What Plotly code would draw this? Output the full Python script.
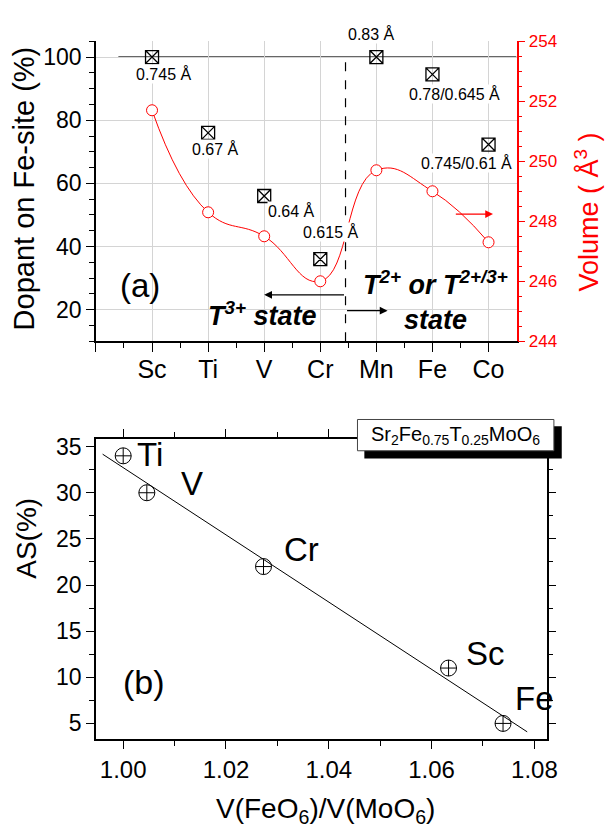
import numpy as np
import plotly.graph_objects as go

# ---------------- data: panel (a) ----------------
dopants = ["Sc", "Ti", "V", "Cr", "Mn", "Fe", "Co"]
dopant_on_fe_site = [100, 76, 56, 36, 100, 94.5, 72.3]          # left axis (%)
cell_volume = [251.7, 248.3, 247.5, 246.0, 249.7, 249.0, 247.3]  # right axis (Å^3)
ionic_radius_labels = ["0.745 Å", "0.67 Å", "0.64 Å", "0.615 Å",
                       "0.83 Å", "0.78/0.645 Å", "0.745/0.61 Å"]
radius_label_x = [0.2, 1.14, 2.48, 3.19, 3.92, 5.40, 5.60]
radius_label_y = [94.7, 70.8, 51.2, 44.5, 107.4, 88.3, 66.6]

# ---------------- data: panel (b) ----------------
as_labels = ["Ti", "V", "Cr", "Sc", "Fe"]
volume_ratio = [1.000, 1.0046, 1.0273, 1.0633, 1.0739]
antisite = [34, 30, 22, 11, 5]
as_label_x = [1.0053, 1.0134, 1.0346, 1.0704, 1.0801]
as_label_y = [34.1, 31.0, 23.9, 12.6, 7.7]
fit_x_span = [0.9960, 1.0786]

FONT = "Liberation Sans, Arial, sans-serif"
W, H = 614, 839
Y1_RANGE = [10, 105]


def px(x):
    return x / W


def py(y):
    return 1 - y / H


def y1_domain(v):
    return (v - Y1_RANGE[0]) / (Y1_RANGE[1] - Y1_RANGE[0])


cat_x = list(range(len(dopants)))

fig = go.Figure()

# panel (a): dopant fraction on Fe site
fig.add_trace(go.Scatter(
    x=cat_x, y=dopant_on_fe_site, mode="markers",
    marker=dict(symbol="square-x-open", size=13, color="black", line=dict(width=1.3)),
    xaxis="x", yaxis="y", showlegend=False, cliponaxis=False))

# panel (a): cell volume (right axis)
fig.add_trace(go.Scatter(
    x=cat_x, y=cell_volume, mode="lines+markers",
    line=dict(color="red", width=1, shape="spline", smoothing=1.3),
    marker=dict(symbol="circle", size=11, color="white", line=dict(color="red", width=1)),
    xaxis="x", yaxis="y2", showlegend=False))

# panel (b): anti-site vs octahedral volume ratio
fig.add_trace(go.Scatter(
    x=volume_ratio, y=antisite, mode="markers",
    marker=dict(symbol="circle-cross-open", size=16, color="black", line=dict(width=1)),
    xaxis="x2", yaxis="y3", showlegend=False))

# linear fit
slope, intercept = np.polyfit(volume_ratio, antisite, 1)
fx = np.array(fit_x_span)
fig.add_trace(go.Scatter(
    x=fx, y=slope * fx + intercept, mode="lines",
    line=dict(color="black", width=1),
    xaxis="x2", yaxis="y3", showlegend=False))

# ---------------- axes ----------------
grid = "#d4d4d4"
fig.update_layout(
    width=W, height=H, margin=dict(l=0, r=0, t=0, b=0),
    paper_bgcolor="white", plot_bgcolor="white",
    font=dict(family=FONT, color="black"),
    xaxis=dict(
        domain=[px(97.7), px(526)], anchor="y", range=[-1, 6.5],
        tickmode="array", tickvals=[-1] + cat_x, ticktext=[""] + dopants,
        ticks="outside", ticklen=9, tickwidth=1.3, tickcolor="black",
        ticklabelstandoff=-4,
        tickfont=dict(size=25), showline=True, linecolor="black", linewidth=1.5,
        showgrid=True, gridcolor=grid, gridwidth=1, zeroline=False,
        minor=dict(tickvals=[-0.5, 0.5, 1.5, 2.5, 3.5, 4.5, 5.5], ticks="outside",
                   ticklen=5, tickcolor="black", tickwidth=1.3, showgrid=False),
    ),
    yaxis=dict(
        domain=[py(340), py(33)], anchor="x", range=Y1_RANGE,
        tickvals=[20, 40, 60, 80, 100], ticks="outside", ticklen=8, tickwidth=1.3,
        tickcolor="black", tickfont=dict(size=23),
        showline=True, linecolor="black", linewidth=1.5,
        showgrid=True, gridcolor=grid, gridwidth=1, zeroline=False,
        minor=dict(dtick=5, tick0=0, ticks="outside", ticklen=5, tickcolor="black",
                   tickwidth=1.3, showgrid=False),
    ),
    yaxis2=dict(
        overlaying="y", anchor="x", side="right", range=[244, 254], dtick=2,
        ticks="outside", ticklen=7, tickwidth=1.3, tickcolor="red",
        tickfont=dict(size=17, color="red"),
        showline=True, linecolor="red", linewidth=1.5, showgrid=False, zeroline=False,
        minor=dict(dtick=0.5, ticks="outside", ticklen=4, tickcolor="red", tickwidth=1.3),
    ),
    xaxis2=dict(
        domain=[px(97.7), px(556.7)], anchor="y3", range=[0.9947, 1.0824],
        dtick=0.02, tick0=1.0, tickformat=".2f",
        ticks="outside", ticklen=8, tickwidth=1.3, tickcolor="black",
        tickfont=dict(size=24), showline=True, linecolor="black", linewidth=1.5,
        mirror="allticks", showgrid=False, zeroline=False,
        minor=dict(dtick=0.01, tick0=1.0, ticks="outside", ticklen=5,
                   tickcolor="black", tickwidth=1.3),
    ),
    yaxis3=dict(
        domain=[py(747.3), py(440)], anchor="x2", range=[3.27, 35.82],
        dtick=5, tick0=0, ticks="outside", ticklen=8, tickwidth=1.3, tickcolor="black",
        tickfont=dict(size=23), showline=True, linecolor="black", linewidth=1.5,
        mirror="allticks", showgrid=False, zeroline=False,
        minor=dict(dtick=2.5, tick0=0, ticks="outside", ticklen=5,
                   tickcolor="black", tickwidth=1.3),
    ),
)

# ---------------- shapes ----------------
full_line_x = [-0.6, 6.5]
divider_x = 3.45
shapes = [
    dict(type="line", xref="x", yref="y", x0=full_line_x[0], x1=full_line_x[1],
         y0=100, y1=100, line=dict(color="#333333", width=1.5), layer="below"),
    dict(type="line", xref="x", yref="y", x0=divider_x, x1=divider_x,
         y0=10, y1=100, line=dict(color="black", width=1.2, dash="dash")),
    # formula box with drop shadow
    dict(type="rect", xref="paper", yref="paper",
         x0=px(371), x1=px(572), y0=py(460), y1=py(427),
         fillcolor="black", line=dict(width=0)),
    dict(type="rect", xref="paper", yref="paper",
         x0=px(364), x1=px(564), y0=py(452), y1=py(420),
         fillcolor="white", line=dict(color="#444444", width=1)),
]
fig.update_layout(shapes=shapes)

# ---------------- annotations ----------------
ann = []
for t, x, y in zip(ionic_radius_labels, radius_label_x, radius_label_y):
    ann.append(dict(text=t, x=x, y=y1_domain(y), xref="x", yref="y domain",
                    xanchor="center", yanchor="middle", showarrow=False,
                    font=dict(size=16, color="black"), bgcolor="white", borderpad=0))

ann.append(dict(text="(a)", x=-0.206, y=27.6, xref="x", yref="y", showarrow=False,
                font=dict(size=33)))
ann.append(dict(text="<b><i>T<sup>3+</sup> state</i></b>", x=1.97, y=18.7,
                xref="x", yref="y", showarrow=False, font=dict(size=27)))
ann.append(dict(text="<b><i>T<sup>2+</sup> or T<sup>2+/3+</sup><br>state</i></b>",
                x=5.05, y=23.0, xref="x", yref="y", showarrow=False,
                font=dict(size=27), align="center"))

# state arrows
ann.append(dict(x=2.0, y=24.7, ax=divider_x, ay=24.7, xref="x", yref="y",
                axref="x", ayref="y", showarrow=True, arrowhead=2, arrowsize=1.3,
                arrowwidth=1.2, arrowcolor="black", text=""))
ann.append(dict(x=4.2, y=19.7, ax=divider_x, ay=19.7, xref="x", yref="y",
                axref="x", ayref="y", showarrow=True, arrowhead=2, arrowsize=1.3,
                arrowwidth=1.2, arrowcolor="black", text=""))
# axis pointer for the volume curve
ann.append(dict(x=6.08, y=248.24, ax=5.39, ay=248.24, xref="x", yref="y2",
                axref="x", ayref="y2", showarrow=True, arrowhead=2, arrowsize=1.3,
                arrowwidth=1.2, arrowcolor="red", text=""))

# axis titles
paper_ann = dict(xref="paper", yref="paper", xanchor="center", yanchor="middle",
                 showarrow=False)
ann.append(dict(text="Dopant on Fe-site (%)", x=px(24), y=py(184), textangle=-90,
                font=dict(size=29), **paper_ann))
ann.append(dict(text="Volume ( Å<sup>3</sup> )", x=px(598), y=py(208), textangle=-90,
                font=dict(size=27, color="red"), **paper_ann))
ann.append(dict(text="AS(%)", x=px(27.5), y=py(542), textangle=-90,
                font=dict(size=28), **paper_ann))
ann.append(dict(text="V(FeO<sub>6</sub>)/V(MoO<sub>6</sub>)", x=px(331), y=py(820),
                font=dict(size=28), **paper_ann))

# panel (b) labels
for t, x, y in zip(as_labels, as_label_x, as_label_y):
    ann.append(dict(text=t, x=x, y=y, xref="x2", yref="y3", showarrow=False,
                    font=dict(size=33)))
ann.append(dict(text="(b)", x=1.0040, y=9.52, xref="x2", yref="y3", showarrow=False,
                font=dict(size=34)))
ann.append(dict(text="Sr<sub>2</sub>Fe<sub>0.75</sub>T<sub>0.25</sub>MoO<sub>6</sub>",
                x=px(464), y=py(436), font=dict(size=20), **paper_ann))

fig.update_layout(annotations=ann)

# the figure fills the page edge to edge
fig.write_html(
    "out.html",
    post_script="document.body.style.margin='0';document.body.style.overflow='hidden';",
)
